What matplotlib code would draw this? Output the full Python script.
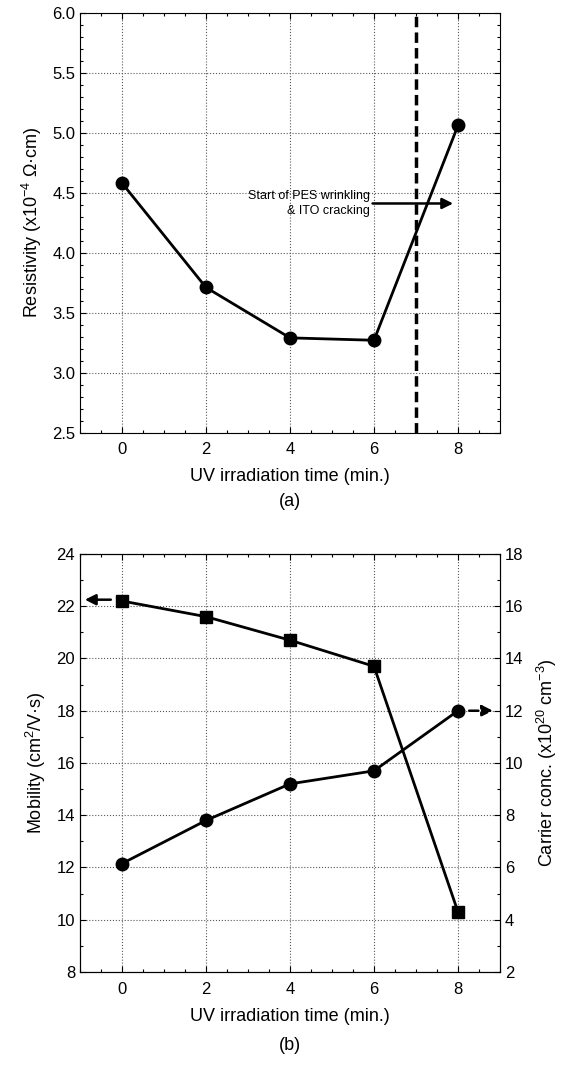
import numpy as np
import matplotlib
matplotlib.use("Agg")
import matplotlib.pyplot as plt
from matplotlib.ticker import MultipleLocator

plt.rcParams['font.family'] = ['Liberation Sans', 'DejaVu Sans']
plt.rcParams['mathtext.fontset'] = 'custom'
plt.rcParams['mathtext.rm'] = 'Liberation Sans'
plt.rcParams['mathtext.it'] = 'Liberation Sans:italic'

# data
uv_time = [0, 2, 4, 6, 8]
resistivity = [4.58, 3.71, 3.29, 3.27, 5.06]
mobility = [22.2, 21.6, 20.7, 19.7, 10.3]
carrier = [6.15, 7.8, 9.2, 9.7, 12.0]
crack_time = 7

xticks = [0, 2, 4, 6, 8]
res_ticks = [2.5, 3.0, 3.5, 4.0, 4.5, 5.0, 5.5, 6.0]
mob_ticks = [8, 10, 12, 14, 16, 18, 20, 22, 24]
car_ticks = [2, 4, 6, 8, 10, 12, 14, 16, 18]

fs_tick = 12
fs_label = 13

fig = plt.figure(figsize=(5.69, 10.68), dpi=100)
ax1 = fig.add_axes([0.1406, 0.5949, 0.7381, 0.3932])
ax2 = fig.add_axes([0.1406, 0.0899, 0.7381, 0.3914])


def style(ax, right=True):
    ax.tick_params(which='both', direction='in', top=True, right=right,
                   labelsize=fs_tick, width=0.8)
    ax.tick_params(which='major', length=4)
    ax.tick_params(which='minor', length=2.5)
    ax.tick_params(axis='x', pad=7)
    ax.grid(True, which='major', linestyle=':', color='0.35', linewidth=0.8)
    for s in ax.spines.values():
        s.set_linewidth(0.8)


# (a) resistivity
ax1.plot(uv_time, resistivity, '-o', color='black', lw=2, ms=9)
ax1.axvline(crack_time, color='black', ls='--', lw=2.5, dashes=(3, 1.5))
ax1.set_xlim(-1, 9)
ax1.set_ylim(2.5, 6.0)
ax1.set_xticks(xticks)
ax1.set_yticks(res_ticks)
ax1.xaxis.set_minor_locator(MultipleLocator(0.5))
ax1.yaxis.set_minor_locator(MultipleLocator(0.1))
ax1.set_yticklabels(['%.1f' % t for t in res_ticks])
style(ax1)
ax1.set_xlabel('UV irradiation time (min.)', fontsize=fs_label, labelpad=8)
ax1.set_ylabel('Resistivity (x10$^{-4}$ Ω·cm)', fontsize=fs_label, labelpad=6)
ax1.annotate('', xy=(7.95, 4.41), xytext=(5.9, 4.41),
             arrowprops=dict(arrowstyle='-|>', color='black', lw=1.8,
                             mutation_scale=16))
ax1.text(5.9, 4.41, 'Start of PES wrinkling\n& ITO cracking', ha='right',
         va='center', fontsize=9, linespacing=1.25)
ax1.text(0.5, -0.165, '(a)', transform=ax1.transAxes, ha='center',
         va='center', fontsize=fs_label)

# (b) mobility and carrier concentration
ax2.plot(uv_time, mobility, '-s', color='black', lw=2, ms=8)
ax2.set_xlim(-1, 9)
ax2.set_ylim(8, 24)
ax2.set_xticks(xticks)
ax2.set_yticks(mob_ticks)
ax2.xaxis.set_minor_locator(MultipleLocator(0.5))
ax2.yaxis.set_minor_locator(MultipleLocator(1))
style(ax2, right=False)
ax2.set_xlabel('UV irradiation time (min.)', fontsize=fs_label, labelpad=8)
ax2.set_ylabel('Mobility (cm$^2$/V·s)', fontsize=fs_label, labelpad=6)
ax2.annotate('', xy=(-0.95, 22.25), xytext=(-0.2, 22.25),
             arrowprops=dict(arrowstyle='-|>', color='black', lw=1.8,
                             mutation_scale=16))
ax2.text(0.5, -0.175, '(b)', transform=ax2.transAxes, ha='center',
         va='center', fontsize=fs_label)

ax3 = ax2.twinx()
ax3.plot(uv_time, carrier, '-o', color='black', lw=2, ms=9)
ax3.set_ylim(2, 18)
ax3.set_yticks(car_ticks)
ax3.yaxis.set_minor_locator(MultipleLocator(1))
ax3.tick_params(which='both', direction='in', labelsize=fs_tick, width=0.8)
ax3.tick_params(which='major', length=4)
ax3.tick_params(which='minor', length=2.5)
ax3.set_ylabel('Carrier conc. (x10$^{20}$ cm$^{-3}$)', fontsize=fs_label,
               labelpad=8)
ax3.annotate('', xy=(8.9, 12.0), xytext=(8.2, 12.0),
             arrowprops=dict(arrowstyle='-|>', color='black', lw=1.8,
                             ls='--', mutation_scale=16))

fig.savefig('out.png', dpi=100)
